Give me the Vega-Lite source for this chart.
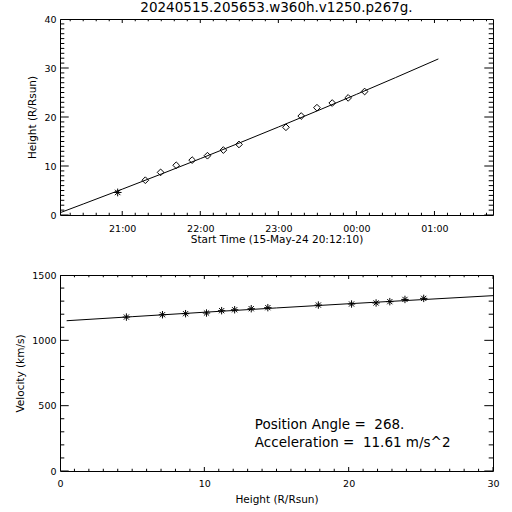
{
  "$schema": "https://vega.github.io/schema/vega-lite/v6.json",
  "padding": {"left": 15, "top": 0, "right": 5, "bottom": 3},
  "background": "white",
  "config": {
    "font": "DejaVu Sans",
    "view": {"stroke": "black", "strokeWidth": 1},
    "axis": {"domain": false, "grid": false, "ticks": false, "labelColor": "black", "titleColor": "black", "labelFontSize": 9.5, "titleFontSize": 10.5, "titleFontWeight": "normal", "labelFont": "DejaVu Sans", "titleFont": "DejaVu Sans"},
    "title": {"fontSize": 13.5, "fontWeight": "normal", "color": "black", "font": "DejaVu Sans"}
  },
  "spacing": 23,
  "vconcat": [
    {
      "width": 433,
      "height": 196,
      "title": {"text": "20240515.205653.w360h.v1250.p267g.", "offset": 0},
      "layer": [
        {
          "data": {"values": [
            {"t": "2024-05-15T20:12:10", "h": 0.46},
            {"t": "2024-05-15T20:30:00", "h": 2.24},
            {"t": "2024-05-15T21:00:00", "h": 5.27},
            {"t": "2024-05-15T21:30:00", "h": 8.36},
            {"t": "2024-05-15T22:00:00", "h": 11.5},
            {"t": "2024-05-15T22:30:00", "h": 14.7},
            {"t": "2024-05-15T23:00:00", "h": 17.95},
            {"t": "2024-05-15T23:30:00", "h": 21.26},
            {"t": "2024-05-16T00:00:00", "h": 24.62},
            {"t": "2024-05-16T00:30:00", "h": 28.03},
            {"t": "2024-05-16T01:03:00", "h": 31.85}
          ]},
          "mark": {"type": "line", "color": "black", "strokeWidth": 1},
          "encoding": {
            "x": {"field": "t", "type": "temporal",
              "scale": {"domain": [{"year": 2024, "month": 5, "date": 15, "hours": 20, "minutes": 12, "seconds": 10}, {"year": 2024, "month": 5, "date": 16, "hours": 1, "minutes": 45, "seconds": 0}], "nice": false},
              "axis": {"orient": "bottom",
                "values": [
                  {"year": 2024, "month": 5, "date": 15, "hours": 21},
                  {"year": 2024, "month": 5, "date": 15, "hours": 22},
                  {"year": 2024, "month": 5, "date": 15, "hours": 23},
                  {"year": 2024, "month": 5, "date": 16, "hours": 0},
                  {"year": 2024, "month": 5, "date": 16, "hours": 1}
                ],
                "format": "%H:%M",
                "labelPadding": 8, "labelFlush": false,
                "title": "Start Time (15-May-24 20:12:10)", "titlePadding": 2}},
            "y": {"field": "h", "type": "quantitative",
              "scale": {"domain": [0, 40], "nice": false, "zero": false},
              "axis": {"orient": "left", "values": [0, 10, 20, 30, 40],
                "labelPadding": 4,
                "title": "Height (R/Rsun)", "titlePadding": 6}}
          }
        },
        {
          "data": {"values": [
            {"t": "2024-05-15T21:17:45", "h": 7.1},
            {"t": "2024-05-15T21:29:30", "h": 8.7},
            {"t": "2024-05-15T21:41:30", "h": 10.15},
            {"t": "2024-05-15T21:53:45", "h": 11.2},
            {"t": "2024-05-15T22:05:30", "h": 12.1},
            {"t": "2024-05-15T22:17:45", "h": 13.25},
            {"t": "2024-05-15T22:29:45", "h": 14.4},
            {"t": "2024-05-15T23:05:50", "h": 17.9},
            {"t": "2024-05-15T23:17:35", "h": 20.2},
            {"t": "2024-05-15T23:29:40", "h": 21.9},
            {"t": "2024-05-15T23:41:25", "h": 22.85},
            {"t": "2024-05-15T23:53:40", "h": 23.9},
            {"t": "2024-05-16T00:06:20", "h": 25.2}
          ]},
          "mark": {"type": "point", "shape": "diamond", "size": 45, "filled": false, "stroke": "black", "strokeWidth": 1, "opacity": 1},
          "encoding": {
            "x": {"field": "t", "type": "temporal"},
            "y": {"field": "h", "type": "quantitative"}
          }
        },
        {
          "data": {"values": [
            {"t": "2024-05-15T20:56:30", "h": 4.6}
          ]},
          "mark": {"type": "point", "shape": "M-1,0L1,0M0,-1L0,1M-0.7,-0.7L0.7,0.7M-0.7,0.7L0.7,-0.7", "size": 60, "filled": false, "stroke": "black", "strokeWidth": 1, "opacity": 1},
          "encoding": {
            "x": {"field": "t", "type": "temporal"},
            "y": {"field": "h", "type": "quantitative"}
          }
        },
        {
          "data": {"values": [
            {"h": 0}, {"h": 1}, {"h": 2}, {"h": 3}, {"h": 4}, {"h": 5}, {"h": 6}, {"h": 7}, {"h": 8}, {"h": 9},
            {"h": 10}, {"h": 11}, {"h": 12}, {"h": 13}, {"h": 14}, {"h": 15}, {"h": 16}, {"h": 17}, {"h": 18}, {"h": 19},
            {"h": 20}, {"h": 21}, {"h": 22}, {"h": 23}, {"h": 24}, {"h": 25}, {"h": 26}, {"h": 27}, {"h": 28}, {"h": 29},
            {"h": 30}, {"h": 31}, {"h": 32}, {"h": 33}, {"h": 34}, {"h": 35}, {"h": 36}, {"h": 37}, {"h": 38}, {"h": 39}, {"h": 40}
          ]},
          "layer": [
            {
              "mark": {"type": "tick", "orient": "horizontal", "clip": true, "color": "black", "thickness": 1, "opacity": 1},
              "encoding": {
                "x": {"datum": {"year": 2024, "month": 5, "date": 15, "hours": 20, "minutes": 12, "seconds": 10}, "type": "temporal"},
                "y": {"field": "h", "type": "quantitative"},
                "size": {"condition": {"test": "datum.h % 10 === 0", "value": 17.4}, "value": 8.6}
              }
            },
            {
              "mark": {"type": "tick", "orient": "horizontal", "clip": true, "color": "black", "thickness": 1, "opacity": 1},
              "encoding": {
                "x": {"datum": {"year": 2024, "month": 5, "date": 16, "hours": 1, "minutes": 45, "seconds": 0}, "type": "temporal"},
                "y": {"field": "h", "type": "quantitative"},
                "size": {"condition": {"test": "datum.h % 10 === 0", "value": 17.4}, "value": 8.6}
              }
            }
          ]
        },
        {
          "data": {"values": [
            {"t": "2024-05-15T20:20:00"}, {"t": "2024-05-15T20:30:00"}, {"t": "2024-05-15T20:40:00"}, {"t": "2024-05-15T20:50:00"},
            {"t": "2024-05-15T21:00:00"}, {"t": "2024-05-15T21:10:00"}, {"t": "2024-05-15T21:20:00"}, {"t": "2024-05-15T21:30:00"}, {"t": "2024-05-15T21:40:00"}, {"t": "2024-05-15T21:50:00"},
            {"t": "2024-05-15T22:00:00"}, {"t": "2024-05-15T22:10:00"}, {"t": "2024-05-15T22:20:00"}, {"t": "2024-05-15T22:30:00"}, {"t": "2024-05-15T22:40:00"}, {"t": "2024-05-15T22:50:00"},
            {"t": "2024-05-15T23:00:00"}, {"t": "2024-05-15T23:10:00"}, {"t": "2024-05-15T23:20:00"}, {"t": "2024-05-15T23:30:00"}, {"t": "2024-05-15T23:40:00"}, {"t": "2024-05-15T23:50:00"},
            {"t": "2024-05-16T00:00:00"}, {"t": "2024-05-16T00:10:00"}, {"t": "2024-05-16T00:20:00"}, {"t": "2024-05-16T00:30:00"}, {"t": "2024-05-16T00:40:00"}, {"t": "2024-05-16T00:50:00"},
            {"t": "2024-05-16T01:00:00"}, {"t": "2024-05-16T01:10:00"}, {"t": "2024-05-16T01:20:00"}, {"t": "2024-05-16T01:30:00"}, {"t": "2024-05-16T01:40:00"}
          ]},
          "layer": [
            {
              "mark": {"type": "tick", "orient": "vertical", "clip": true, "color": "black", "thickness": 1, "opacity": 1},
              "encoding": {
                "x": {"field": "t", "type": "temporal"},
                "y": {"datum": 0, "type": "quantitative"},
                "size": {"condition": {"test": "minutes(datum.t) === 0", "value": 8}, "value": 4.4}
              }
            },
            {
              "mark": {"type": "tick", "orient": "vertical", "clip": true, "color": "black", "thickness": 1, "opacity": 1},
              "encoding": {
                "x": {"field": "t", "type": "temporal"},
                "y": {"datum": 40, "type": "quantitative"},
                "size": {"condition": {"test": "minutes(datum.t) === 0", "value": 8}, "value": 4.4}
              }
            }
          ]
        }
      ]
    },
    {
      "width": 433,
      "height": 196,
      "layer": [
        {
          "data": {"values": [
            {"h": 0.46, "v": 1150},
            {"h": 5, "v": 1181},
            {"h": 10, "v": 1215},
            {"h": 15, "v": 1248},
            {"h": 20, "v": 1280},
            {"h": 25, "v": 1311},
            {"h": 30, "v": 1342}
          ]},
          "mark": {"type": "line", "color": "black", "strokeWidth": 1},
          "encoding": {
            "x": {"field": "h", "type": "quantitative",
              "scale": {"domain": [0, 30], "nice": false, "zero": false},
              "axis": {"orient": "bottom", "values": [0, 10, 20, 30],
                "labelPadding": 7, "labelFlush": false,
                "title": "Height (R/Rsun)", "titlePadding": 7}},
            "y": {"field": "v", "type": "quantitative",
              "scale": {"domain": [0, 1500], "nice": false, "zero": false},
              "axis": {"orient": "left", "values": [0, 500, 1000, 1500], "format": "d",
                "labelPadding": 4,
                "title": "Velocity (km/s)", "titlePadding": 6}}
          }
        },
        {
          "data": {"values": [
            {"h": 4.6, "v": 1178},
            {"h": 7.1, "v": 1196},
            {"h": 8.7, "v": 1204},
            {"h": 10.15, "v": 1209},
            {"h": 11.2, "v": 1227},
            {"h": 12.1, "v": 1234},
            {"h": 13.25, "v": 1242},
            {"h": 14.4, "v": 1250},
            {"h": 17.9, "v": 1270},
            {"h": 20.2, "v": 1278},
            {"h": 21.9, "v": 1286},
            {"h": 22.85, "v": 1296},
            {"h": 23.9, "v": 1313},
            {"h": 25.2, "v": 1321}
          ]},
          "mark": {"type": "point", "shape": "M-1,0L1,0M0,-1L0,1M-0.7,-0.7L0.7,0.7M-0.7,0.7L0.7,-0.7", "size": 55, "filled": false, "stroke": "black", "strokeWidth": 1, "opacity": 1},
          "encoding": {
            "x": {"field": "h", "type": "quantitative"},
            "y": {"field": "v", "type": "quantitative"}
          }
        },
        {
          "data": {"values": [
            {"h": 13.5, "v": 354, "label": "Position Angle = \u00a0268."},
            {"h": 13.5, "v": 214, "label": "Acceleration = \u00a011.61 m/s^2"}
          ]},
          "mark": {"type": "text", "align": "left", "baseline": "middle", "fontSize": 13.5, "font": "DejaVu Sans", "color": "black"},
          "encoding": {
            "x": {"field": "h", "type": "quantitative"},
            "y": {"field": "v", "type": "quantitative"},
            "text": {"field": "label"}
          }
        },
        {
          "data": {"values": [
            {"v": 0}, {"v": 100}, {"v": 200}, {"v": 300}, {"v": 400}, {"v": 500}, {"v": 600}, {"v": 700},
            {"v": 800}, {"v": 900}, {"v": 1000}, {"v": 1100}, {"v": 1200}, {"v": 1300}, {"v": 1400}, {"v": 1500}
          ]},
          "layer": [
            {
              "mark": {"type": "tick", "orient": "horizontal", "clip": true, "color": "black", "thickness": 1, "opacity": 1},
              "encoding": {
                "x": {"datum": 0, "type": "quantitative"},
                "y": {"field": "v", "type": "quantitative"},
                "size": {"condition": {"test": "datum.v % 500 === 0", "value": 17.4}, "value": 8.6}
              }
            },
            {
              "mark": {"type": "tick", "orient": "horizontal", "clip": true, "color": "black", "thickness": 1, "opacity": 1},
              "encoding": {
                "x": {"datum": 30, "type": "quantitative"},
                "y": {"field": "v", "type": "quantitative"},
                "size": {"condition": {"test": "datum.v % 500 === 0", "value": 17.4}, "value": 8.6}
              }
            }
          ]
        },
        {
          "data": {"values": [
            {"h": 0}, {"h": 1}, {"h": 2}, {"h": 3}, {"h": 4}, {"h": 5}, {"h": 6}, {"h": 7}, {"h": 8}, {"h": 9},
            {"h": 10}, {"h": 11}, {"h": 12}, {"h": 13}, {"h": 14}, {"h": 15}, {"h": 16}, {"h": 17}, {"h": 18}, {"h": 19},
            {"h": 20}, {"h": 21}, {"h": 22}, {"h": 23}, {"h": 24}, {"h": 25}, {"h": 26}, {"h": 27}, {"h": 28}, {"h": 29}, {"h": 30}
          ]},
          "layer": [
            {
              "mark": {"type": "tick", "orient": "vertical", "clip": true, "color": "black", "thickness": 1, "opacity": 1},
              "encoding": {
                "x": {"field": "h", "type": "quantitative"},
                "y": {"datum": 0, "type": "quantitative"},
                "size": {"condition": {"test": "datum.h % 10 === 0", "value": 8}, "value": 4.4}
              }
            },
            {
              "mark": {"type": "tick", "orient": "vertical", "clip": true, "color": "black", "thickness": 1, "opacity": 1},
              "encoding": {
                "x": {"field": "h", "type": "quantitative"},
                "y": {"datum": 1500, "type": "quantitative"},
                "size": {"condition": {"test": "datum.h % 10 === 0", "value": 8}, "value": 4.4}
              }
            }
          ]
        }
      ]
    }
  ]
}
